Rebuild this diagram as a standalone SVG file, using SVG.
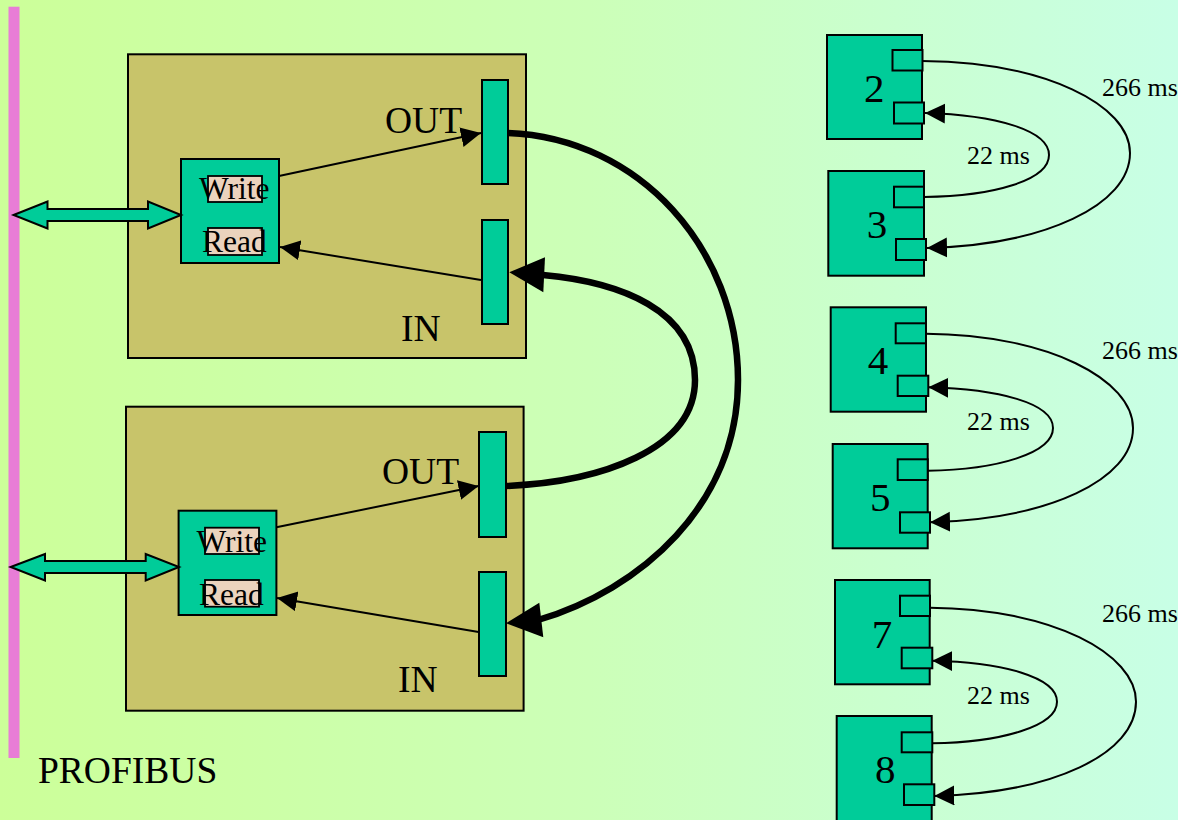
<svg xmlns="http://www.w3.org/2000/svg" width="1178" height="820" viewBox="0 0 1178 820">
<defs>
<linearGradient id="bg" x1="0" y1="0" x2="1" y2="0">
<stop offset="0" stop-color="#CCFF99"/>
<stop offset="0.5" stop-color="#CCFFB8"/>
<stop offset="1" stop-color="#C8FFE6"/>
</linearGradient>
<marker id="ah" markerUnits="userSpaceOnUse" markerWidth="21" markerHeight="21" refX="20" refY="10" orient="auto" viewBox="0 0 21 21">
<path d="M0,0 L20,10 L0,20 z" fill="#000"/>
</marker>
<style>
.mod{fill:#C8C46A;stroke:#000;stroke-width:2}
.teal{fill:#00CC99;stroke:#000;stroke-width:2}
.lab{fill:#EBD3BD;stroke:#000;stroke-width:1.8}
.t{font-family:"Liberation Serif","Times New Roman",serif;fill:#000}
.big{font-size:37.5px}
.wr{font-size:31.5px}
.dig{font-size:41px}
.ms{font-size:26px}
.thin{fill:none;stroke:#000;stroke-width:2;marker-end:url(#ah)}
.thick{fill:none;stroke:#000;stroke-width:6.5}
.dbl{fill:#00CC99;stroke:#000;stroke-width:2;stroke-linejoin:miter}
</style>
</defs>
<rect x="0" y="0" width="1178" height="820" fill="url(#bg)"/>
<g id="profibus">
<rect x="8.5" y="6.7" width="11" height="751.3" fill="#E87DD6"/>
<text class="t big" x="38" y="783">PROFIBUS</text>
</g>
<g id="module1">
<rect class="mod" x="128" y="54.3" width="398" height="303.7"/>
<rect class="teal" x="482" y="80" width="26" height="104"/>
<rect class="teal" x="482" y="220" width="26" height="104"/>
<rect class="teal" x="181" y="159" width="98" height="104"/>
<rect class="lab" x="208" y="176" width="54" height="26"/>
<rect class="lab" x="208" y="228" width="54" height="27"/>
<text class="t wr" x="199" y="199">Write</text>
<text class="t wr" x="202" y="252">Read</text>
<text class="t big" x="385" y="133">OUT</text>
<text class="t big" x="401" y="341">IN</text>
</g>
<g id="module2">
<rect class="mod" x="126" y="406.7" width="397.6" height="304"/>
<rect class="teal" x="479" y="432" width="27" height="105"/>
<rect class="teal" x="479" y="572" width="27" height="104"/>
<rect class="teal" x="178.6" y="510.7" width="97.8" height="104.3"/>
<rect class="lab" x="205" y="527.7" width="54" height="26.3"/>
<rect class="lab" x="205" y="580" width="54" height="26.7"/>
<text class="t wr" x="196.5" y="552">Write</text>
<text class="t wr" x="199" y="605">Read</text>
<text class="t big" x="382" y="484">OUT</text>
<text class="t big" x="398" y="692">IN</text>
</g>
<g id="node2">
<rect class="teal" x="827" y="35" width="95" height="104"/>
<rect class="teal" x="892.5" y="50" width="30" height="20.5"/>
<rect class="teal" x="894" y="102.5" width="30" height="21"/>
<text class="t dig" x="864" y="101.7">2</text>
</g>
<g id="node3">
<rect class="teal" x="828.3" y="171" width="95.7" height="104.7"/>
<rect class="teal" x="894" y="186.7" width="30" height="20.6"/>
<rect class="teal" x="896" y="239" width="30" height="21"/>
<text class="t dig" x="866.7" y="238">3</text>
</g>
<g id="node4">
<rect class="teal" x="830.7" y="307.3" width="95.3" height="104.4"/>
<rect class="teal" x="895.7" y="323.3" width="30.3" height="20"/>
<rect class="teal" x="897.7" y="375.7" width="30.6" height="20.3"/>
<text class="t dig" x="867.7" y="374.3">4</text>
</g>
<g id="node5">
<rect class="teal" x="832.7" y="444" width="95" height="104.3"/>
<rect class="teal" x="897.7" y="459.3" width="30" height="20.7"/>
<rect class="teal" x="900" y="512.3" width="30" height="20.4"/>
<text class="t dig" x="870" y="510.7">5</text>
</g>
<g id="node7">
<rect class="teal" x="835" y="580" width="94.7" height="104.3"/>
<rect class="teal" x="900" y="595.7" width="30" height="20.3"/>
<rect class="teal" x="901.7" y="647.7" width="30.6" height="20.6"/>
<text class="t dig" x="871.7" y="648.3">7</text>
</g>
<g id="node8">
<rect class="teal" x="836.7" y="716" width="95" height="106"/>
<rect class="teal" x="901.7" y="732.3" width="30.6" height="20"/>
<rect class="teal" x="904" y="784.3" width="30.3" height="20.7"/>
<text class="t dig" x="875" y="783.3">8</text>
</g>
<g id="connectors">
<polygon class="dbl" points="13.6,215 47.5,201.5 47.5,209 148,209 148,201.5 181,215 148,228.5 148,221 47.5,221 47.5,228.5"/>
<polygon class="dbl" points="10.7,567 45,554 45,561 145.7,561 145.7,554 179,567 145.7,580.5 145.7,573 45,573 45,580.5"/>
<path class="thin" d="M279,176 L481,133"/>
<path class="thin" d="M481,280 L280,247"/>
<path class="thin" d="M276.4,527.3 L478.6,486"/>
<path class="thin" d="M478.6,632 L277,598"/>
<path class="thick" d="M508,133 C640,138 738,250 738,380 C738,505 640,590 538,620"/>
<polygon points="506,623.3 539.3,602.7 543.3,637.3" fill="#000"/>
<path class="thick" d="M506,486 C600,482 695,450 695,380 C695,310 620,282 543,275"/>
<polygon points="509.3,272.3 545,257.3 543.3,292.3" fill="#000"/>
<path class="thin" d="M922,61 C1045,62 1130,105 1130,153 C1130,205 1045,245 927,248"/>
<path class="thin" d="M924,197 C995,196 1049,180 1049,155 C1049,130 995,115 925,113"/>
<path class="thin" d="M926,333.7 C1049,334.7 1133,380 1133,428 C1133,480 1049,519 930,522.3"/>
<path class="thin" d="M927.7,470.7 C998,469.7 1053,453 1053,428 C1053,403 998,389 928.3,387.3"/>
<path class="thin" d="M930,607.7 C1053,608.7 1136,654 1136,701.7 C1136,754 1053,793 934.3,796"/>
<path class="thin" d="M932.3,743.3 C1002,742.3 1057,726 1057,701.7 C1057,677 1002,662 932.3,660.7"/>
<text class="t ms" x="1102" y="95.7">266 ms</text>
<text class="t ms" x="967" y="164">22 ms</text>
<text class="t ms" x="1102" y="359">266 ms</text>
<text class="t ms" x="967" y="430">22 ms</text>
<text class="t ms" x="1102" y="622.3">266 ms</text>
<text class="t ms" x="967" y="704">22 ms</text>
</g>
</svg>
